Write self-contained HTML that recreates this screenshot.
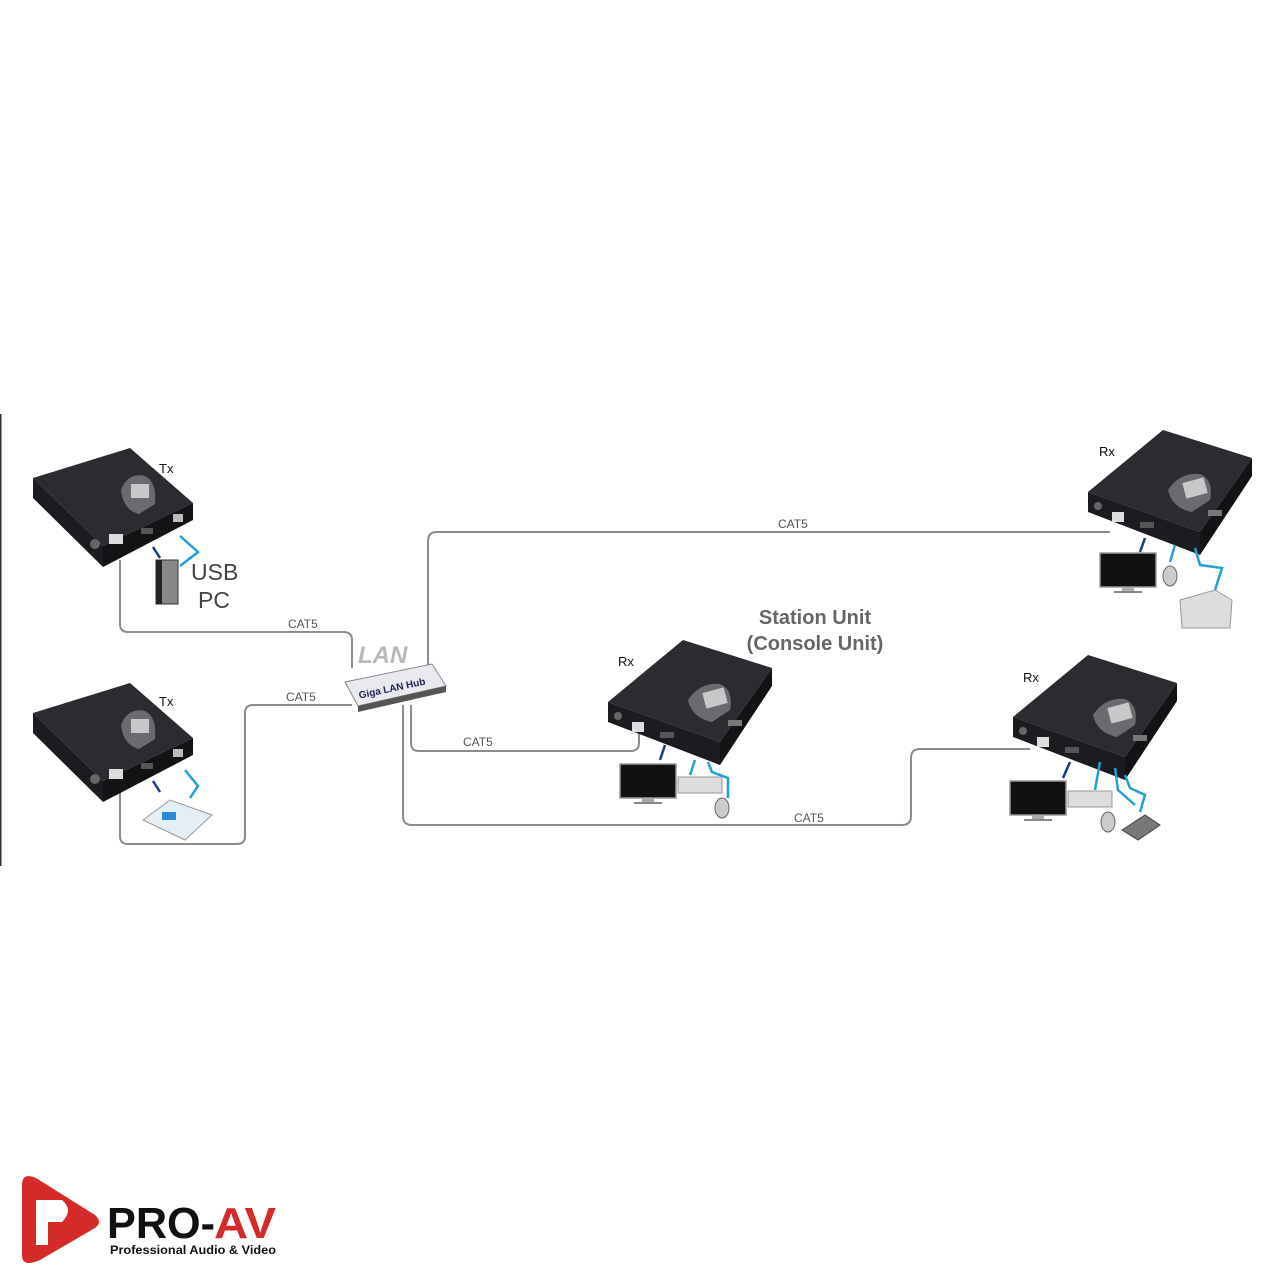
<!DOCTYPE html>
<html><head><meta charset="utf-8"><style>
html,body{margin:0;padding:0;background:#fff;}
svg{display:block;}
text{font-family:"Liberation Sans",sans-serif;}
</style></head><body>
<svg width="1280" height="1280" viewBox="0 0 1280 1280" xmlns="http://www.w3.org/2000/svg">
<defs>
<g id="dev">
  <polygon points="0,62 75,0 164,28 112,102" fill="#2b2b30"/>
  <polygon points="0,62 112,102 112,125 0,82" fill="#1c1c20"/>
  <polygon points="112,102 164,28 164,46 112,125" fill="#131316"/>
  <path d="M80,60 Q92,42 112,44 Q126,50 122,70 L104,82 Q84,78 80,60Z" fill="#6a6a70"/>
  <rect x="96" y="50" width="22" height="16" fill="#c8c8c8" transform="rotate(-15 107 58)"/>
  <rect x="24" y="82" width="12" height="10" fill="#ddd"/>
  <rect x="52" y="92" width="14" height="6" fill="#555"/>
  <circle cx="10" cy="76" r="4" fill="#666"/>
  <rect x="120" y="80" width="14" height="6" fill="#777"/>
</g>
<g id="tx">
  <polygon points="0,30 97,0 160,55 70,98" fill="#2b2b30"/>
  <polygon points="0,30 70,98 70,119 0,50" fill="#1c1c20"/>
  <polygon points="70,98 160,55 160,72 70,119" fill="#131316"/>
  <path d="M88,42 Q95,24 112,28 Q124,34 122,56 L106,66 Q90,62 88,42Z" fill="#6a6a70"/>
  <rect x="98" y="36" width="18" height="14" fill="#c8c8c8"/>
  <rect x="76" y="86" width="14" height="10" fill="#ddd"/>
  <rect x="108" y="80" width="12" height="6" fill="#555"/>
  <rect x="140" y="66" width="10" height="8" fill="#bbb"/>
  <circle cx="62" cy="96" r="5" fill="#666"/>
</g>
<g id="mon"><rect x="0" y="0" width="56" height="34" fill="#111" stroke="#999" stroke-width="1.5"/><rect x="22" y="34" width="12" height="4" fill="#aaa"/><rect x="14" y="38" width="28" height="2" fill="#888"/></g>
</defs>
<rect x="0" y="414" width="1.5" height="452" fill="#333"/>
<g fill="none" stroke="#8c8c8c" stroke-width="2">
<path d="M120 560 V624 Q120 632 128 632 H344 Q352 632 352 640 V668"/>
<path d="M352 705 H253 Q245 705 245 713 V836 Q245 844 237 844 H128 Q120 844 120 836 V790"/>
<path d="M428 668 V541 Q428 532 437 532 H1110"/>
<path d="M411 705 V743 Q411 751 419 751 H631 Q639 751 639 743 V728"/>
<path d="M403 705 V816 Q403 825 412 825 H902 Q911 825 911 816 V758 Q911 749 920 749 H1030"/>
</g>
<g font-size="12" fill="#555">
<text x="288" y="628">CAT5</text><text x="286" y="701">CAT5</text>
<text x="778" y="528">CAT5</text><text x="463" y="746">CAT5</text><text x="794" y="822">CAT5</text>
</g>
<use href="#tx" transform="translate(33,448)"/>
<use href="#tx" transform="translate(33,683)"/>
<use href="#dev" transform="translate(1088,430)"/>
<use href="#dev" transform="translate(608,640)"/>
<use href="#dev" transform="translate(1013,655)"/>
<g font-size="13" fill="#111">
<text x="159" y="473">Tx</text><text x="159" y="706">Tx</text>
<text x="1099" y="456">Rx</text><text x="618" y="666">Rx</text><text x="1023" y="682">Rx</text>
</g>
<text x="191" y="580" font-size="23" fill="#444">USB</text>
<text x="198" y="608" font-size="23" fill="#444">PC</text>
<text x="815" y="624" font-size="20" font-weight="bold" fill="#666" text-anchor="middle">Station Unit</text>
<text x="815" y="650" font-size="20" font-weight="bold" fill="#666" text-anchor="middle">(Console Unit)</text>
<text x="358" y="663" font-size="24" font-weight="bold" font-style="italic" fill="#b8b8b8">LAN</text>
<polygon points="345,682 432,664 446,686 358,706" fill="#e8eaf0" stroke="#888"/>
<polygon points="358,706 446,686 446,692 358,712" fill="#555"/>
<text x="358" y="692" font-size="10" font-weight="bold" fill="#225" transform="rotate(-12 390 688)">Giga LAN Hub</text>
<g fill="none" stroke-width="2.5">
<path d="M153 547 L160 558" stroke="#1a3a8a"/>
<path d="M180 536 L198 552 L180 566" stroke="#1fa0d8"/>
<path d="M153 781 L160 792" stroke="#1a3a8a"/>
<path d="M185 770 L198 786 L190 798" stroke="#1fa0d8"/>
<path d="M665 745 L660 760" stroke="#1a3a8a"/>
<path d="M695 760 L690 775" stroke="#1fa0d8"/>
<path d="M708 762 L712 772 L728 778 L728 798" stroke="#1fa0d8"/>
<path d="M1145 538 L1140 552" stroke="#1a3a8a"/>
<path d="M1175 545 L1170 562" stroke="#1fa0d8"/>
<path d="M1195 548 L1200 565 L1222 568 L1215 590" stroke="#1fa0d8"/>
<path d="M1070 762 L1063 778" stroke="#1a3a8a"/>
<path d="M1100 762 L1095 790" stroke="#1fa0d8"/>
<path d="M1115 768 L1118 790 L1135 805" stroke="#1fa0d8"/>
<path d="M1125 775 L1130 788 L1145 795 L1140 812" stroke="#1fa0d8"/>
</g>
<rect x="156" y="560" width="22" height="44" fill="#888" stroke="#333"/>
<rect x="156" y="560" width="6" height="44" fill="#222"/>
<polygon points="143,820 170,800 212,815 185,840" fill="#e6eef5" stroke="#999"/>
<rect x="162" y="812" width="14" height="8" fill="#2a8ad8"/>
<use href="#mon" transform="translate(620,764)"/>
<use href="#mon" transform="translate(1100,553)"/>
<use href="#mon" transform="translate(1010,781)"/>
<rect x="678" y="777" width="44" height="16" fill="#ddd" stroke="#999"/>
<rect x="1068" y="791" width="44" height="16" fill="#ddd" stroke="#999"/>
<ellipse cx="722" cy="808" rx="7" ry="10" fill="#ccc" stroke="#666"/>
<ellipse cx="1170" cy="576" rx="7" ry="10" fill="#ccc" stroke="#666"/>
<ellipse cx="1108" cy="822" rx="7" ry="10" fill="#ccc" stroke="#666"/>
<polygon points="1180,600 1215,590 1232,600 1230,628 1182,628" fill="#ddd" stroke="#999"/>
<polygon points="1122,830 1145,815 1160,825 1138,840" fill="#777" stroke="#444"/>
<path d="M22,1185 Q22,1172 36,1178 L95,1215 Q103,1222 95,1228 L40,1260 Q22,1268 22,1255Z" fill="#d42a2a"/>
<path d="M36,1200 H62 Q74,1210 62,1222 H48 V1245 H36Z" fill="#fff"/>
<text x="107" y="1238" font-size="44" font-weight="bold" fill="#111" textLength="108" lengthAdjust="spacingAndGlyphs">PRO-</text>
<text x="214" y="1238" font-size="44" font-weight="bold" fill="#d42a2a" textLength="62" lengthAdjust="spacingAndGlyphs">AV</text>
<text x="110" y="1254" font-size="12" font-weight="bold" fill="#111" textLength="166" lengthAdjust="spacingAndGlyphs">Professional Audio &amp; Video</text>
</svg>
</body></html>
